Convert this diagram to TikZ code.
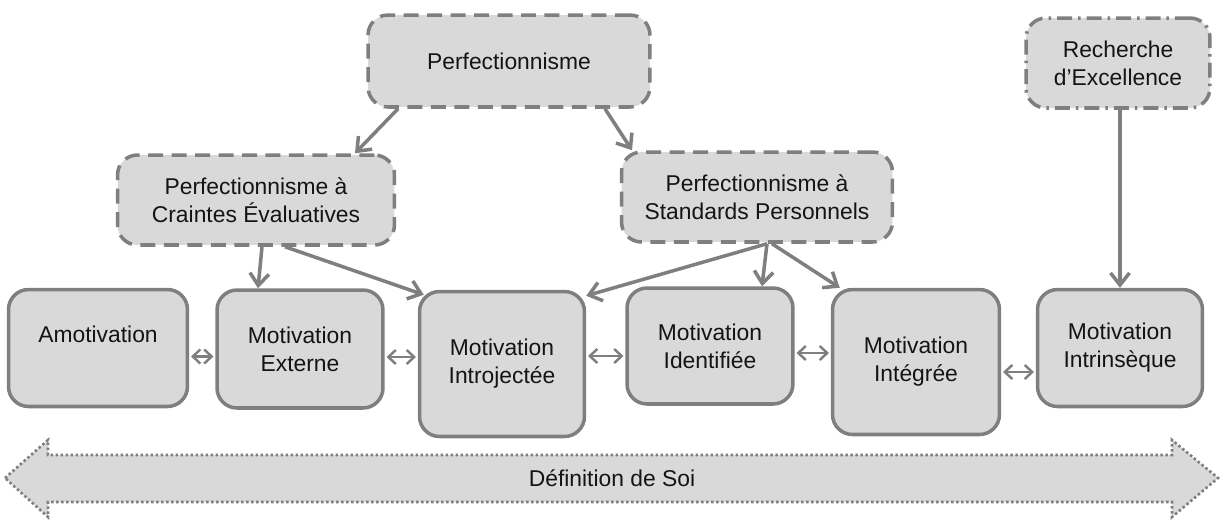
\documentclass[tikz,border=0pt]{standalone}
\usepackage{fontspec}
\setmainfont{Liberation Sans}
\usetikzlibrary{arrows.meta}
\definecolor{boxfill}{HTML}{D9D9D9}
\definecolor{boxline}{HTML}{7F7F7F}
\definecolor{textcol}{HTML}{141414}

\begin{document}
\begin{tikzpicture}[x=0.02cm,y=-0.02cm,
        every node/.style={align=center,text=textcol,font=\fontsize{13}{16}\selectfont},
        box/.style={draw=boxline,fill=boxfill,line width=2pt,rounded corners=0.4cm,inner sep=0pt},
        dashbox/.style={box,dash pattern=on 0.3cm off 0.17cm},
        dotdashbox/.style={box,dash pattern=on 0.3cm off 0.12cm on 0.05cm off 0.12cm},
        link/.style={draw=boxline,line width=2pt,-{Straight Barb[length=0.24cm,width=0.38cm]}},
        pair/.style={draw=boxline,line width=1.4pt,shorten <=1pt,shorten >=1pt,
                {Straight Barb[length=0.15cm,width=0.28cm]}-{Straight Barb[length=0.15cm,width=0.28cm]}},
        soiarrow/.style={draw=boxline,fill=boxfill,line width=1.5pt,dash pattern=on 0.05cm off 0.05cm}]
        \useasboundingbox (0,0) rectangle (1225,522);
        % perfectionnisme
        \node[dashbox,minimum width=5.64cm,minimum height=1.84cm] (perf) at (509,61) {Perfectionnisme};
        \node[dotdashbox,minimum width=3.68cm,minimum height=1.8cm] (exc) at (1118,63) {Recherche\\d’Excellence};
        \node[dashbox,minimum width=5.54cm,minimum height=1.8cm] (pce) at (256,200) {Perfectionnisme à\\Craintes Évaluatives};
        \node[dashbox,minimum width=5.42cm,minimum height=1.8cm] (psp) at (757,197) {Perfectionnisme à\\Standards Personnels};
        % continuum
        \node[box,minimum width=3.58cm,minimum height=2.34cm] (amot) at (98,348) {Amotivation\\~};
        \node[box,minimum width=3.32cm,minimum height=2.36cm] (ext) at (300,349) {Motivation\\Externe};
        \node[box,minimum width=3.3cm,minimum height=2.9cm] (intro) at (502,364) {Motivation\\Introjectée};
        \node[box,minimum width=3.32cm,minimum height=2.32cm] (ident) at (710,346) {Motivation\\Identifiée};
        \node[box,minimum width=3.34cm,minimum height=2.9cm] (integ) at (916,362) {Motivation\\Intégrée};
        \node[box,minimum width=3.3cm,minimum height=2.34cm] (intr) at (1120,348) {Motivation\\Intrinsèque};
        % liens
        \draw[link] ([xshift=-2.22cm]perf.south) -- ([xshift=1.98cm]pce.north);
        \draw[link] ([xshift=1.92cm]perf.south) -- ([xshift=-2.5cm]psp.north);
        \draw[link] ([xshift=0.12cm]pce.south) -- ([xshift=-0.84cm]ext.north);
        \draw[link] ([xshift=0.58cm]pce.south) -- ([shift={(0.12cm,-0.1cm)}]intro.north west);
        \draw[link] ([xshift=0.2cm]psp.south) -- ([shift={(0cm,-0.12cm)}]intro.north east);
        \draw[link] ([xshift=0.2cm]psp.south) -- ([xshift=1.04cm]ident.north);
        \draw[link] ([xshift=0.3cm]psp.south) -- ([xshift=0.18cm]integ.north west);
        \draw[link] ([xshift=0.04cm]exc.south) -- ([xshift=0.04cm]exc.south |- intr.north);
        \draw[pair] ([yshift=-0.17cm]amot.east) -- ([yshift=-0.17cm]amot.east -| ext.west);
        \draw[pair] ([yshift=-0.16cm]ext.east) -- ([yshift=-0.16cm]ext.east -| intro.west);
        \draw[pair] ([yshift=0.16cm]intro.east) -- ([yshift=0.16cm]intro.east -| ident.west);
        \draw[pair] ([yshift=-0.14cm]ident.east) -- ([yshift=-0.14cm]ident.east -| integ.west);
        \draw[pair] ([yshift=-0.2cm]integ.east) -- ([yshift=-0.2cm]integ.east -| intr.west);
        % definition de soi
        \draw[soiarrow] (5,478) -- (48,440) -- (48,455) -- (1172,455) -- (1172,440) -- (1218,478)
                -- (1172,517) -- (1172,502) -- (48,502) -- (48,517) -- cycle;
        \node (soi) at (612,478) {Définition de Soi};
\end{tikzpicture}
\end{document}
